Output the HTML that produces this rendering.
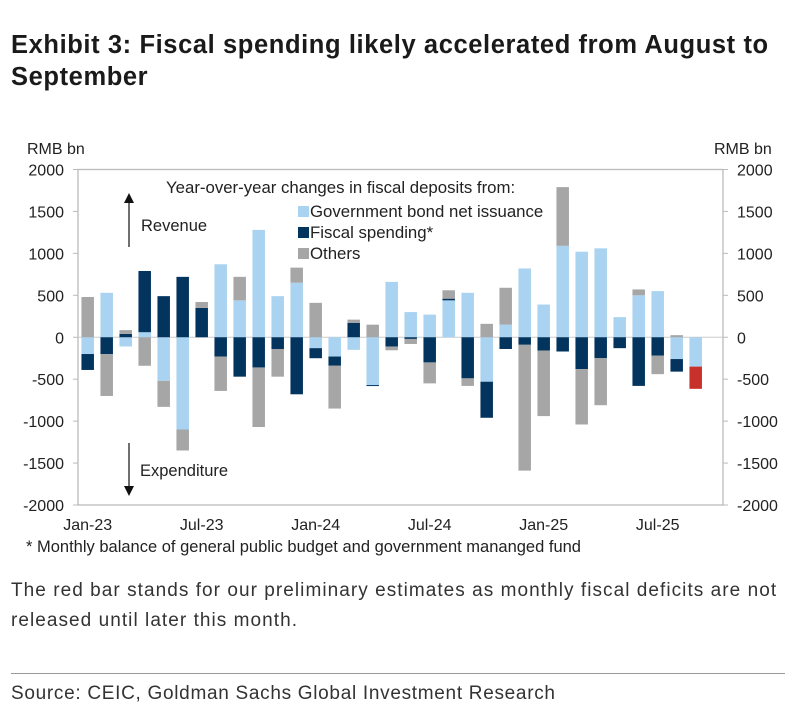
<!DOCTYPE html>
<html><head><meta charset="utf-8"><style>
body{margin:0;background:#fff;width:796px;height:721px;overflow:hidden;font-family:"Liberation Sans",sans-serif;color:#222}
#title{position:absolute;left:11px;top:29px;font-size:25.5px;font-weight:bold;line-height:32px;color:#1a1a1a;letter-spacing:0.6px;white-space:nowrap}
#note{position:absolute;left:11px;top:576px;font-size:19px;line-height:30px;color:#333;letter-spacing:1.05px;white-space:nowrap}
#rule{position:absolute;left:11px;top:673px;width:774px;height:1px;background:#999}
#src{position:absolute;left:11px;top:683px;font-size:19px;color:#333;letter-spacing:0.7px;white-space:nowrap}
svg{position:absolute;left:0;top:0}
</style></head><body>
<div id="title">Exhibit 3: Fiscal spending likely accelerated from August to<br>September</div>
<svg id="chart" width="796" height="721"></svg>
<div id="note">The red bar stands for our preliminary estimates as monthly fiscal deficits are not<br>released until later this month.</div>
<div id="rule"></div>
<div id="src">Source: CEIC, Goldman Sachs Global Investment Research</div>
<script>
const months=["Jan-23","Feb-23","Mar-23","Apr-23","May-23","Jun-23","Jul-23","Aug-23","Sep-23","Oct-23","Nov-23","Dec-23","Jan-24","Feb-24","Mar-24","Apr-24","May-24","Jun-24","Jul-24","Aug-24","Sep-24","Oct-24","Nov-24","Dec-24","Jan-25","Feb-25","Mar-25","Apr-25","May-25","Jun-25","Jul-25","Aug-25","Sep-25"];
const govBond=[-200,530,-110,60,-520,-1100,0,870,440,1280,490,650,-130,-230,-150,-570,660,300,270,440,530,-530,150,820,390,1090,1020,1060,240,500,550,-260,-350];
const fiscalSpending=[-190,-200,40,730,490,720,350,-230,-470,-360,-140,-680,-120,-110,170,-12,-110,-20,-300,20,-490,-430,-140,-90,-160,-170,-380,-250,-130,-580,-220,-150,0];
const others=[480,-500,45,-340,-310,-250,70,-410,280,-710,-330,180,410,-510,40,150,-45,-60,-250,100,-90,160,440,-1500,-780,700,-660,-560,0,70,-220,25,0];
const estimate=[0,0,0,0,0,0,0,0,0,0,0,0,0,0,0,0,0,0,0,0,0,0,0,0,0,0,0,0,0,0,0,0,-265];
const yTicks=[2000,1500,1000,500,0,-500,-1000,-1500,-2000];
const xLabelIdx=[0,6,12,18,24,30];
const legendLabels=["Government bond net issuance","Fiscal spending*","Others"];

const svg=document.getElementById('chart');
const NS='http://www.w3.org/2000/svg';
const L=78,R=723,T=169.5,B=505,yMin=-2000,yMax=2000;
const x0=87.7,step=19,bw=12.5;
const y=v=>T+(yMax-v)/(yMax-yMin)*(B-T);
const xc=i=>x0+i*step;
function mk(tag,a,txt){const e=document.createElementNS(NS,tag);for(const k in a)e.setAttribute(k,a[k]);if(txt!==undefined)e.textContent=txt;svg.appendChild(e);return e;}

const frame=mk('rect',{x:L,y:T,width:R-L,height:B-T,fill:'none',stroke:'#bbb','stroke-width':1.3});


const zl=mk('line',{x1:L,x2:R,y1:y(0),y2:y(0),stroke:'#ccc','stroke-width':1});



yTicks.forEach(v=>{
  const t1=mk('line',{x1:L-5,x2:L,y1:y(v),y2:y(v),stroke:'#bbb'});
  
  
  const t2=mk('line',{x1:R,x2:R+5,y1:y(v),y2:y(v),stroke:'#bbb'});
  
  
  const a=mk('text',{x:L-14,y:y(v)+6,'text-anchor':'end','font-size':16,fill:'#222'},String(v));
  
  
  const b=mk('text',{x:R+14,y:y(v)+6,'font-size':16,fill:'#222'},String(v));
  
  
});
const u1=mk('text',{x:27,y:154,'font-size':16,fill:'#222'},'RMB bn');


const u2=mk('text',{x:714,y:154,'font-size':16,fill:'#222'},'RMB bn');



xLabelIdx.forEach(i=>{
  const t=mk('text',{x:xc(i),y:530,'text-anchor':'middle','font-size':16,fill:'#222'},months[i]);
  
  
});
const fn=mk('text',{x:26,y:552,'font-size':16.5,fill:'#222'},'* Monthly balance of general public budget and government mananged fund');



const series=[[govBond,'#a9d3f0','gov-bond-bar'],[fiscalSpending,'#03345e','fiscal-spending-bar'],[others,'#a6a6a6','others-bar'],[estimate,'#c8302c','estimate-bar']];
months.forEach((m,i)=>{
  let pos=0,neg=0;
  series.forEach(([arr,col,nm])=>{
    const v=arr[i];if(!v)return;
    let a,b;
    if(v>0){a=pos;b=pos+v;pos=b;}else{a=neg;b=neg+v;neg=b;}
    const r=mk('rect',{x:xc(i)-bw/2,y:Math.min(y(a),y(b)),width:bw,height:Math.abs(y(a)-y(b)),fill:col});
    
    
  });
});

const ar1=mk('line',{x1:129,x2:129,y1:247,y2:200,stroke:'#111','stroke-width':1.2});


mk('polygon',{points:'124,203 134,203 129,193',fill:'#111'});
const rv=mk('text',{x:141,y:231,'font-size':16.5,fill:'#222'},'Revenue');


const ar2=mk('line',{x1:129,x2:129,y1:443,y2:488,stroke:'#111','stroke-width':1.2});


mk('polygon',{points:'124,486 134,486 129,496',fill:'#111'});
const ex=mk('text',{x:140,y:476,'font-size':16.5,fill:'#222'},'Expenditure');



const lt=mk('text',{x:166,y:193,'font-size':16.8,fill:'#222'},'Year-over-year changes in fiscal deposits from:');


const lcols=['#a9d3f0','#03345e','#a6a6a6'];
legendLabels.forEach((s,k)=>{
  const yy=217+k*21;
  const sw=mk('rect',{x:298,y:yy-11,width:11,height:11,fill:lcols[k]});
  
  
  const t=mk('text',{x:310,y:yy,'font-size':16.8,fill:'#222'},s);
  
  
});
</script>
</body></html>
